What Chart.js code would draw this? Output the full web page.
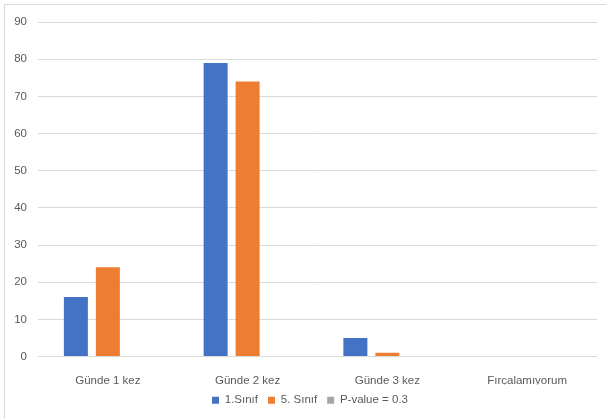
<!DOCTYPE html>
<html>
<head>
<meta charset="utf-8">
<script src="https://cdn.jsdelivr.net/npm/chart.js@4"></script>
<style>
  html, body { margin: 0; padding: 0; background: #fff; }
  #wrap { position: relative; width: 606px; height: 419px; }
  #frame { position: absolute; left: 4px; top: 4px; right: 0; bottom: 0; border-left: 1px solid #d9d9d9; border-top: 1px solid #d9d9d9; }
  canvas { position: absolute; left: 0; top: 0; }
</style>
</head>
<body>
<div id="wrap">
  <div id="frame"></div>
  <canvas id="fircaChart" width="606" height="419"></canvas>
</div>
<script>
var kategoriler = ['Günde 1 kez', 'Günde 2 kez', 'Günde 3 kez', 'Fırçalamıyorum'];
var sinif1 = [16, 79, 5, 0];
var sinif5 = [24, 74, 1, 0];
var pDegeri = [0, 0, 0, 0];
var yTicks = [0, 10, 20, 30, 40, 50, 60, 70, 80, 90];

var yaziRengi = '#595959';
var izgaraRengi = '#d9d9d9';
var yazi = { family: "'Liberation Sans', 'DejaVu Sans', sans-serif", size: 11.5 };

// legend sits centred under the plot area rather than the whole canvas
var legendKaydir = {
    id: 'legendKaydir',
    afterLayout: function (chart) {
        chart.legend.left += 23;
    }
};

var ctx = document.getElementById('fircaChart').getContext('2d');
var fircaChart = new Chart(ctx, {
    type: 'bar',
    data: {
        labels: kategoriler,
        datasets: [
            { label: '1.Sınıf', data: sinif1, backgroundColor: '#4472c4' },
            { label: '5. Sınıf', data: sinif5, backgroundColor: '#ed7d31' },
            { label: 'P-value = 0.3', data: pDegeri, backgroundColor: '#a5a5a5' }
        ]
    },
    plugins: [legendKaydir],
    options: {
        responsive: false,
        animation: false,
        categoryPercentage: 0.687,
        barPercentage: 0.75,
        layout: { padding: { top: 22, right: 9, bottom: 3, left: 0 } },
        plugins: {
            tooltip: { enabled: false },
            legend: {
                position: 'bottom',
                labels: {
                    color: yaziRengi,
                    font: yazi,
                    boxWidth: 7,
                    boxHeight: 7,
                    padding: 10
                }
            }
        },
        scales: {
            x: {
                grid: { display: false },
                border: { display: false },
                ticks: { color: yaziRengi, font: yazi, padding: 9, maxRotation: 0 },
                afterFit: function (scale) { scale.height = 28; }
            },
            y: {
                min: 0,
                max: 90,
                afterBuildTicks: function (scale) {
                    scale.ticks = yTicks.map(function (v) { return { value: v }; });
                },
                grid: { color: izgaraRengi, lineWidth: 1, drawTicks: false },
                border: { display: false },
                ticks: { color: yaziRengi, font: yazi, padding: 11 },
                afterFit: function (scale) { scale.width = 38; }
            }
        }
    }
});
</script>
</body>
</html>
